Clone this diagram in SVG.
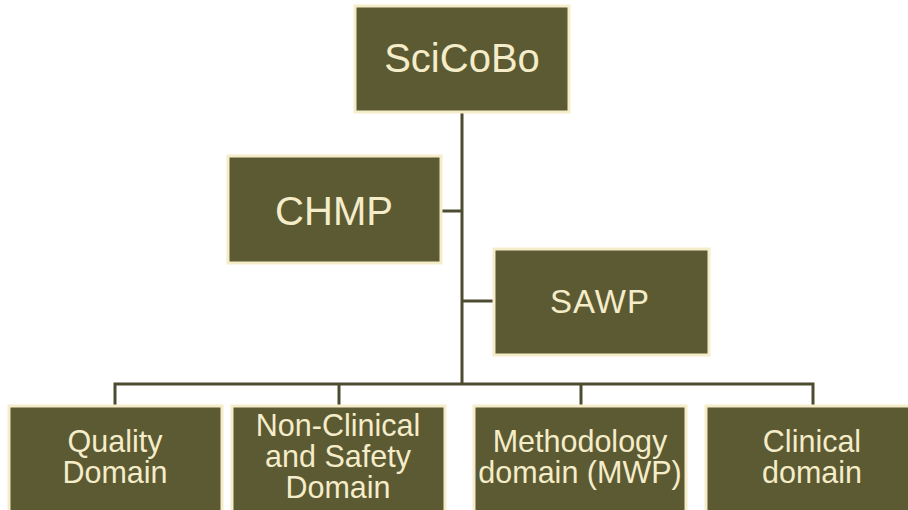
<svg xmlns="http://www.w3.org/2000/svg" width="908" height="510" viewBox="0 0 908 510">
<style>
.box{fill:#5b5a33;stroke:#f5ecc9;stroke-width:3}
.t{fill:#f5ecc9;font-family:"Liberation Sans",Arial,sans-serif;text-anchor:middle}
.big{font-size:40px}
.sm{font-size:30.5px}
.c{fill:none;stroke:#4d4c31;stroke-width:3}
</style>
<rect width="908" height="510" fill="#ffffff"/>
<g id="connectors">
<path class="c" d="M462 112 V384"/>
<path class="c" d="M441 211 H462"/>
<path class="c" d="M462 301 H493"/>
<path class="c" d="M115 405 V384 H813 V405"/>
<path class="c" d="M339 384 V405"/>
<path class="c" d="M581 384 V405"/>
</g>
<g id="scicobo"><rect class="box" x="355" y="6" width="214" height="106"/><text class="t big" x="462" y="72">SciCoBo</text></g>
<g id="chmp"><rect class="box" x="228" y="156" width="213" height="107"/><text class="t big" x="334" y="225">CHMP</text></g>
<g id="sawp"><rect class="box" x="494" y="249" width="215" height="106"/><text class="t" x="600" y="313" style="font-size:33px;letter-spacing:1px">SAWP</text></g>
<g id="quality"><rect class="box" x="9" y="406" width="213" height="110"/><text class="t sm" x="115" y="452">Quality</text><text class="t sm" x="115" y="483">Domain</text></g>
<g id="nonclinical"><rect class="box" x="232" y="406" width="213" height="110"/><text class="t sm" x="338" y="436">Non-Clinical</text><text class="t sm" x="338" y="467">and Safety</text><text class="t sm" x="338" y="498">Domain</text></g>
<g id="methodology"><rect class="box" x="474" y="406" width="212" height="110"/><text class="t sm" x="580" y="452">Methodology</text><text class="t sm" x="580" y="483">domain (MWP)</text></g>
<g id="clinical"><rect class="box" x="706" y="406" width="214" height="110"/><text class="t sm" x="812" y="452">Clinical</text><text class="t sm" x="812" y="483">domain</text></g>
</svg>
